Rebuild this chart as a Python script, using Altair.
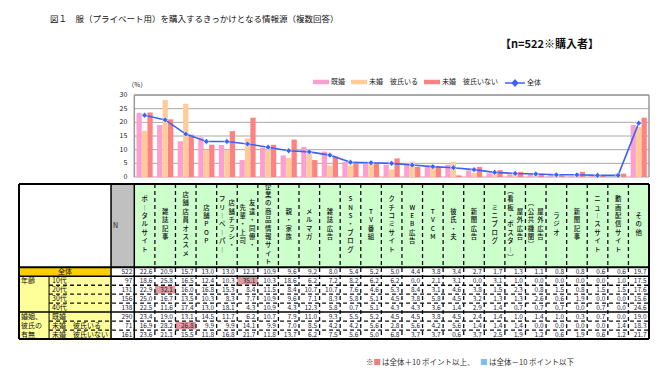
import altair as alt
import pandas as pd

FONT = "Noto Sans CJK JP"

TITLE = "図１　服（プライベート用）を購入するきっかけとなる情報源（複数回答）"
SAMPLE_NOTE = "【n=522※購入者】"

CATEGORIES = ["ポータルサイト", "雑誌記事", "店舗店員オススメ", "店舗POP", "店舗チラシ・フリーペーパー",
              "友達・同僚・先輩・上司", "企業の商品情報サイト", "親・家族", "メルマガ", "雑誌広告",
              "SNS・ブログ", "TV番組", "クチコミサイト", "WEB広告", "TVCM", "彼氏・夫", "新聞広告",
              "ミニブログ", "屋外広告（看板・ポスター）", "屋外広告（公共機関）", "ラジオ", "新聞記事",
              "ニュースサイト", "動画配信サイト", "その他"]
# header labels written in two vertical columns (right column first)
HEADER_COLUMNS = {
    "店舗チラシ・フリーペーパー": ["店舗チラシ・", "フリーペーパー"],
    "友達・同僚・先輩・上司": ["友達・同僚・", "先輩・上司"],
    "屋外広告（看板・ポスター）": ["屋外広告", "（看板・ポスター）"],
    "屋外広告（公共機関）": ["屋外広告", "（公共機関）"],
}

ROW_LABELS = ["全体", "10代", "20代", "30代", "40代", "既婚", "未婚　彼氏いる", "未婚　彼氏いない"]
ROW_N = [522, 97, 131, 156, 138, 290, 71, 161]
GROUP_LABELS = ["年齢", "婚姻、\n彼氏の\n有無"]

TOTAL = [22.6, 20.9, 15.7, 13.0, 13.0, 12.1, 10.9, 9.6, 9.2, 8.0, 5.4, 5.2, 5.0, 4.4, 3.8, 3.4, 2.7, 1.7, 1.3, 1.1, 0.8, 0.8, 0.6, 0.6, 19.7]
AGE_10 = [18.6, 25.8, 16.5, 12.4, 10.3, 35.1, 10.3, 18.6, 6.2, 7.2, 8.2, 6.2, 6.2, 0.0, 2.1, 3.1, 0.0, 3.1, 1.0, 0.0, 0.0, 0.0, 0.0, 1.0, 17.5]
AGE_20 = [22.9, 32.1, 16.0, 16.8, 15.3, 8.4, 11.5, 8.4, 10.7, 10.7, 7.6, 4.6, 5.3, 8.4, 3.1, 4.6, 3.8, 1.5, 2.3, 0.8, 1.5, 0.8, 1.5, 1.5, 17.6]
AGE_30 = [25.0, 16.7, 13.5, 10.3, 8.3, 7.7, 10.9, 9.6, 7.1, 8.3, 5.8, 5.1, 4.5, 3.8, 5.8, 4.5, 3.2, 1.3, 1.3, 2.6, 0.6, 1.9, 0.0, 0.0, 15.6]
AGE_40 = [22.5, 11.6, 17.4, 13.0, 18.1, 4.3, 10.9, 4.3, 12.3, 5.8, 0.7, 5.1, 4.3, 4.3, 3.6, 1.4, 2.9, 1.4, 0.7, 0.7, 0.7, 0.0, 0.7, 0.0, 24.6]
MARRIED = [23.4, 19.0, 13.1, 14.5, 11.7, 6.2, 10.7, 7.9, 11.0, 9.3, 5.5, 5.2, 4.5, 4.5, 3.8, 4.5, 2.4, 1.4, 1.0, 1.4, 1.0, 0.3, 0.7, 0.0, 19.0]
SINGLE_BF = [16.9, 28.2, 26.8, 9.9, 9.9, 14.1, 9.9, 7.0, 8.5, 4.2, 4.2, 5.6, 2.8, 5.6, 4.2, 5.6, 1.4, 1.4, 1.4, 0.0, 0.0, 0.0, 0.0, 1.4, 18.3]
SINGLE_NOBF = [23.6, 21.1, 15.5, 11.8, 16.8, 21.7, 11.8, 13.7, 6.2, 7.5, 5.6, 5.0, 6.8, 3.7, 3.7, 0.6, 3.7, 2.5, 1.9, 1.2, 0.6, 1.9, 0.6, 1.2, 21.7]

SERIES = ["既婚", "未婚　彼氏いる", "未婚　彼氏いない"]
TOTAL_LABEL = "全体"
Y_TICKS = [0, 5, 10, 15, 20, 25, 30]

FOOT_PIECES = ["※", "■", "は全体＋10 ポイント以上、", "■", "は全体－10 ポイント以下"]

# ---------- styles / layout ----------
BAR_COLORS = ["#ff9fcf", "#ffcc99", "#ff8282"]
BLUE = "#3d63f5"
HIGH_COLOR = "#de9a9e"
LOW_COLOR = "#7cbcf0"
X_MIN, X_SUB, X_N, NCOL = -5.6, -4.14, -1.13, 25
Y_HEAD, NROW = -9.3, 8
W = 630
TABLE_H = 155
PX = W / (NCOL - X_MIN)
UNIT_PX = TABLE_H / (NROW - Y_HEAD)
HEAD_FS, HEAD_LH, HEAD_LIFT = 6.4, 8.4, 1.0


def px2x(p):
    return (p - 18) / PX + X_MIN


xs = alt.Scale(domain=[X_MIN, NCOL], nice=False, zero=False)
ys = alt.Scale(domain=[0, 30], nice=False, zero=False)
yt = alt.Scale(domain=[Y_HEAD, NROW], nice=False, zero=False, reverse=True)


def X(f):
    return alt.X(f, scale=xs, axis=None)


def YA(f):
    return alt.Y(f, scale=ys, axis=None)


def YT(f):
    return alt.Y(f, scale=yt, axis=None)


# ---------- chart panel ----------
bar_rows = []
for k, (s, vals) in enumerate(zip(SERIES, [MARRIED, SINGLE_BF, SINGLE_NOBF])):
    for i, v in enumerate(vals):
        c = i + 0.5 + (k - 1) * 0.265
        bar_rows.append({"series": s, "x": c - 0.128, "x2": c + 0.128, "value": v, "base": 0})
bars_df = pd.DataFrame(bar_rows)
line_df = pd.DataFrame({"x": [i + 0.5 for i in range(NCOL)], "value": TOTAL, "label": TOTAL_LABEL})
ticks_df = pd.DataFrame({"tick": Y_TICKS, "x0": 0, "x1": NCOL})

grid = alt.Chart(ticks_df).mark_rule(color="#a8a8a8", strokeWidth=1).encode(
    y=YA("tick:Q"), x=X("x0:Q"), x2="x1:Q")
frame_df = pd.DataFrame({"xv": [0, NCOL], "y0": [0, 0], "y1": [30, 30]})
frame = alt.Chart(frame_df).mark_rule(color="#9a9a9a", strokeWidth=1.5).encode(
    x=X("xv:Q"), y=YA("y0:Q"), y2="y1:Q")
topline = alt.Chart(ticks_df[ticks_df.tick == 30]).mark_rule(color="#9a9a9a", strokeWidth=1.5).encode(
    y=YA("tick:Q"), x=X("x0:Q"), x2="x1:Q")

bars = alt.Chart(bars_df).mark_rect().encode(
    x=X("x:Q"), x2="x2:Q", y=YA("value:Q"), y2="base:Q",
    color=alt.Color("series:N", scale=alt.Scale(domain=SERIES, range=BAR_COLORS),
                    legend=alt.Legend(title=None, orient="none", direction="horizontal",
                                      legendX=294, legendY=-21, padding=0,
                                      symbolType="M-1,-0.28H1V0.28H-1Z", symbolSize=256,
                                      symbolStrokeWidth=0, labelFont=FONT, labelFontSize=7,
                                      labelOffset=2, columnPadding=6, labelColor="#222")))
line = alt.Chart(line_df).mark_line(strokeWidth=1.6).encode(
    x=X("x:Q"), y=YA("value:Q"),
    color=alt.Color("label:N", scale=alt.Scale(domain=[TOTAL_LABEL], range=[BLUE]),
                    legend=alt.Legend(title=None, orient="none", direction="horizontal",
                                      legendX=485, legendY=-23, padding=0,
                                      symbolType="M-1,0H1M0,-0.28L0.26,0L0,0.28L-0.26,0Z",
                                      symbolSize=400, symbolStrokeWidth=1.6,
                                      symbolFillColor=BLUE, labelFont=FONT, labelFontSize=7,
                                      labelOffset=1, labelColor="#222")))
points = alt.Chart(line_df).mark_point(shape="diamond", filled=True, size=34, color=BLUE,
                                       stroke="white", strokeWidth=0.6, opacity=1).encode(
    x=X("x:Q"), y=YA("value:Q"))
tick_labels = alt.Chart(ticks_df).mark_text(align="right", baseline="middle", dx=-7, fontSize=7,
                                            font=FONT, color="#222").encode(
    x=X("x0:Q"), y=YA("tick:Q"), text="tick:Q")
pct = alt.Chart(pd.DataFrame({"t": ["（%）"], "x": [0], "y": [30]})).mark_text(
    align="center", baseline="middle", dx=3, dy=-10, fontSize=6.5, font=FONT, color="#222").encode(
    x=X("x:Q"), y=YA("y:Q"), text="t:N")

chart_panel = alt.layer(grid, frame, topline, bars, line, points, tick_labels, pct).resolve_scale(
    color="independent").properties(
    width=W, height=82,
    title=alt.TitleParams(SAMPLE_NOTE, anchor="end", frame="group", dx=-50, font=FONT,
                          fontSize=11, fontWeight="bold", color="#111", offset=22))

# ---------- table panel ----------
VALUE_ROWS = [TOTAL, AGE_10, AGE_20, AGE_30, AGE_40, MARRIED, SINGLE_BF, SINGLE_NOBF]

cells = [
    {"x": X_MIN, "x2": X_N, "y": Y_HEAD, "y2": 0, "fill": "white"},
    {"x": X_N, "x2": 0, "y": Y_HEAD, "y2": 0, "fill": "#c0c0c0"},
    {"x": 0, "x2": NCOL, "y": Y_HEAD, "y2": 0, "fill": "#ccffcc"},
    {"x": X_MIN, "x2": X_N, "y": 0, "y2": 1, "fill": "#ffcc00"},
    {"x": X_MIN, "x2": X_SUB, "y": 1, "y2": 5, "fill": "#ffff99"},
    {"x": X_MIN, "x2": X_SUB, "y": 5, "y2": 8, "fill": "#ffff99"},
]
for r in range(1, NROW):
    cells.append({"x": X_SUB, "x2": X_N, "y": r, "y2": r + 1, "fill": "#ffff99"})
for r in range(1, NROW):
    for i in range(NCOL):
        d = VALUE_ROWS[r][i] - TOTAL[i]
        if d >= 10:
            cells.append({"x": i, "x2": i + 1, "y": r + 0.08, "y2": r + 0.92, "fill": HIGH_COLOR})
        elif d <= -10:
            cells.append({"x": i, "x2": i + 1, "y": r + 0.08, "y2": r + 0.92, "fill": LOW_COLOR})
cells_df = pd.DataFrame(cells)
cell_layer = alt.Chart(cells_df).mark_rect().encode(
    x=X("x:Q"), x2="x2:Q", y=YT("y:Q"), y2="y2:Q", fill=alt.Fill("fill:N", scale=None))


def vert(s):
    m = {"ー": "︱", "（": "︵", "）": "︶"}
    return "\n".join(m.get(ch, ch) for ch in s)


head_rows = []
for i, c in enumerate(CATEGORIES):
    cols = HEADER_COLUMNS.get(c, [c])
    offs = [0.0] if len(cols) == 1 else [0.23, -0.23]
    for col, off in zip(cols, offs):
        block = (len(col) - 1) * HEAD_LH + HEAD_FS
        head_rows.append({"x": i + 0.5 + off,
                          "y": Y_HEAD / 2 - (block / 2 + HEAD_LIFT) / UNIT_PX, "t": vert(col)})
head_df = pd.DataFrame(head_rows)
head_text = alt.Chart(head_df).mark_text(align="center", baseline="top", fontSize=HEAD_FS,
                                         lineHeight=HEAD_LH, lineBreak="\n", font=FONT,
                                         fontWeight=500, color="#111").encode(
    x=X("x:Q"), y=YT("y:Q"), text="t:N")
n_head = alt.Chart(pd.DataFrame({"t": ["N"], "x": [X_N], "y": [Y_HEAD / 2]})).mark_text(
    align="left", baseline="middle", dx=2, fontSize=7, font=FONT, color="#111").encode(
    x=X("x:Q"), y=YT("y:Q"), text="t:N")

rows_df = pd.DataFrame({"label": ROW_LABELS, "n": ROW_N, "yc": [r + 0.5 for r in range(NROW)],
                        "xl": [(X_MIN + X_N) / 2] + [X_SUB] * (NROW - 1), "xn": 0})
total_label = alt.Chart(rows_df.iloc[:1]).mark_text(align="center", baseline="middle", fontSize=7,
                                                    font=FONT, color="#111").encode(
    x=X("xl:Q"), y=YT("yc:Q"), text="label:N")
sub_labels = alt.Chart(rows_df.iloc[1:]).mark_text(align="left", baseline="middle", dx=3,
                                                   fontSize=7, font=FONT, color="#111").encode(
    x=X("xl:Q"), y=YT("yc:Q"), text="label:N")
n_values = alt.Chart(rows_df).mark_text(align="right", baseline="middle", dx=-2, fontSize=6.5,
                                        font=FONT, color="#1c1c3c").encode(
    x=X("xn:Q"), y=YT("yc:Q"), text="n:Q")
grp_df = pd.DataFrame({"t": GROUP_LABELS, "y": [1, 5], "x": [X_MIN, X_MIN]})
grp_labels = alt.Chart(grp_df).mark_text(align="left", baseline="top", dx=2, dy=1, fontSize=7,
                                         lineHeight=9, lineBreak="\n", font=FONT,
                                         color="#111").encode(
    x=X("x:Q"), y=YT("y:Q"), text="t:N")

val_rows = []
for r in range(NROW):
    for i in range(NCOL):
        val_rows.append({"x": i + 1, "y": r + 0.5, "v": VALUE_ROWS[r][i]})
val_df = pd.DataFrame(val_rows)
val_text = alt.Chart(val_df).mark_text(align="right", baseline="middle", dx=-2.5, fontSize=6.5,
                                       font=FONT, color="#1c1c3c").encode(
    x=X("x:Q"), y=YT("y:Q"), text=alt.Text("v:Q", format=".1f"))

dashed = []
for i in range(1, NCOL):
    dashed.append({"x": i, "x2": i, "y": Y_HEAD, "y2": NROW})
for r in [2, 3, 4, 6, 7]:
    dashed.append({"x": X_SUB, "x2": NCOL, "y": r, "y2": r})
dash_df = pd.DataFrame(dashed)
dash_layer = alt.Chart(dash_df).mark_rule(color="#111", strokeWidth=1.3, strokeDash=[4, 3]).encode(
    x=X("x:Q"), x2="x2:Q", y=YT("y:Q"), y2="y2:Q")

solid = [
    {"x": X_MIN, "x2": NCOL, "y": 0, "y2": 0, "w": 2},
    {"x": X_MIN, "x2": NCOL, "y": 1, "y2": 1, "w": 1.5},
    {"x": X_MIN, "x2": NCOL, "y": 5, "y2": 5, "w": 1.5},
    {"x": X_N, "x2": X_N, "y": Y_HEAD, "y2": NROW, "w": 1.5},
    {"x": 0, "x2": 0, "y": Y_HEAD, "y2": NROW, "w": 1.5},
    {"x": X_SUB, "x2": X_SUB, "y": 1, "y2": NROW, "w": 1},
    {"x": X_MIN, "x2": NCOL, "y": Y_HEAD, "y2": Y_HEAD, "w": 2},
    {"x": X_MIN, "x2": NCOL, "y": NROW, "y2": NROW, "w": 2},
    {"x": X_MIN, "x2": X_MIN, "y": Y_HEAD, "y2": NROW, "w": 2},
    {"x": NCOL, "x2": NCOL, "y": Y_HEAD, "y2": NROW, "w": 2},
]
solid_df = pd.DataFrame(solid)
solid_layer = alt.Chart(solid_df).mark_rule(color="#000").encode(
    x=X("x:Q"), x2="x2:Q", y=YT("y:Q"), y2="y2:Q",
    strokeWidth=alt.StrokeWidth("w:Q", scale=None))

foot_df = pd.DataFrame({
    "t": FOOT_PIECES,
    "x": [px2x(p) for p in [365, 372.5, 381, 479, 488]],
    "y": [NROW + 2.7] * 5,
    "c": ["#333", "#f47c7c", "#333", LOW_COLOR, "#333"],
})
foot = alt.Chart(foot_df).mark_text(align="left", baseline="middle", fontSize=7.5, font=FONT).encode(
    x=X("x:Q"), y=YT("y:Q"), text="t:N", color=alt.Color("c:N", scale=None))

table_panel = alt.layer(cell_layer, dash_layer, solid_layer, head_text, n_head, total_label,
                        sub_labels, grp_labels, n_values, val_text, foot).properties(width=W, height=TABLE_H)

chart = alt.vconcat(chart_panel, table_panel, spacing=3).properties(
    title=alt.TitleParams(TITLE, anchor="start", dx=32, font=FONT, fontSize=8.5, fontWeight="normal",
                          color="#111", offset=16),
    padding={"left": 10, "top": 6, "right": 2, "bottom": 2},
).configure_view(stroke=None)

chart.save("out.html", embed_options={"renderer": "svg", "actions": False})
